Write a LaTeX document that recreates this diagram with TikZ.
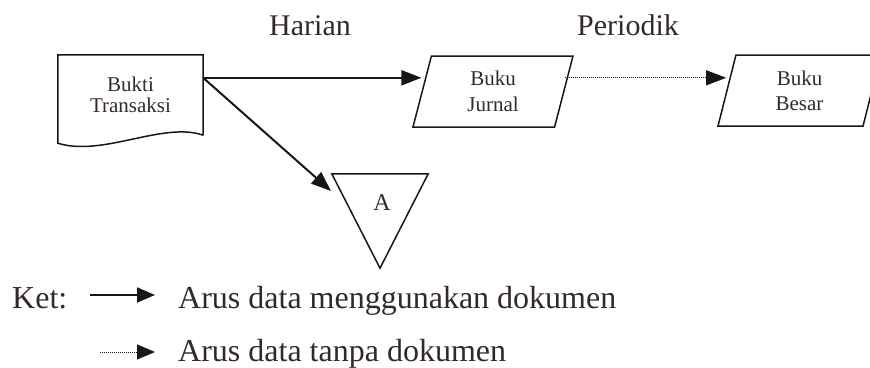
\documentclass[tikz,border=0pt]{standalone}
\usepackage{fontspec}
\setmainfont{Liberation Serif}
\usetikzlibrary{arrows.meta,shapes.geometric,calc}
\definecolor{ink}{RGB}{50,40,45}
\definecolor{stroke}{RGB}{25,22,25}
\begin{document}
\begin{tikzpicture}[x=1pt,y=-1pt,
  every node/.style={text=ink},
  box/.style={draw=stroke, line width=1.5pt, line join=miter},
  boxtext/.style={font=\fontsize{21}{26}\selectfont, align=center},
  para/.style={trapezium, trapezium stretches body, draw=stroke, line width=1.5pt,
    inner sep=0pt, trapezium left angle=65.7, trapezium right angle=114.3,
    minimum height=71pt, boxtext},
  flow/.style={draw=stroke, line width=2pt, -{Triangle[length=20pt,width=15pt]}},
  nodoc/.style={draw=stroke, line width=1pt, dash pattern=on 1pt off 1pt,
    -{Triangle[length=20pt,width=15pt]}},
  title/.style={font=\fontsize{30}{36}\selectfont, inner sep=0pt, anchor=base},
  legend/.style={font=\fontsize{32}{38}\selectfont, inner sep=0pt, anchor=base west}
]
\useasboundingbox (0,0) rectangle (870,367);

% titles
\node[title] (harian) at (310,35) {Harian};
\node[title] (periodik) at (628,35) {Periodik};

% document: Bukti Transaksi
\node[boxtext, font=\fontsize{21}{21}\selectfont, minimum width=145pt, minimum height=80pt, inner sep=0pt] (bukti) at (130.5,95) {Bukti\\Transaksi};
\draw[box] (bukti.south east) -- (bukti.north east) -- (bukti.north west)
  -- ($(bukti.south west)+(0,8)$) .. controls +(45,14) and +(-40,-14) .. (bukti.south east);
\coordinate (b1) at ($(bukti.north east)+(0,23)$);

% journals / ledgers
\node[para, minimum width=160pt] (jurnal) at (493,91.5) {Buku\\Jurnal};
\node[para, minimum width=163pt, font=\fontsize{21}{25}\selectfont] (besar) at (799.5,90.5) {Buku\\Besar};

% archive triangle
\node[minimum width=96pt, minimum height=94pt, inner sep=0pt] (arsip) at (380,221) {};
\draw[box] (arsip.north west) -- (arsip.north east) -- (arsip.south) -- cycle;
\node[font=\fontsize{24}{24}\selectfont, inner sep=0pt] (alabel) at (382,203) {A};
\coordinate (atip) at (331,191);

% connectors
\draw[flow] (b1) -- (b1 -| jurnal.west);
\draw[nodoc] (b1 -| jurnal.east) -- (b1 -| besar.west);
\draw[flow] (b1) -- (atip);

% legend
\node[legend] (ket) at (12,308) {Ket:};
\coordinate (l1a) at (90,295);
\coordinate (l1b) at (155,295);
\draw[flow, -{Triangle[length=18pt,width=15pt]}] (l1a) -- (l1b);
\node[legend] (t1) at (178,308) {Arus data menggunakan dokumen};
\coordinate (l2a) at (100,352);
\coordinate (l2b) at (155,352);
\draw[nodoc, -{Triangle[length=18pt,width=15pt]}] (l2a) -- (l2b);
\node[legend] (t2) at (178,361) {Arus data tanpa dokumen};
\end{tikzpicture}
\end{document}
